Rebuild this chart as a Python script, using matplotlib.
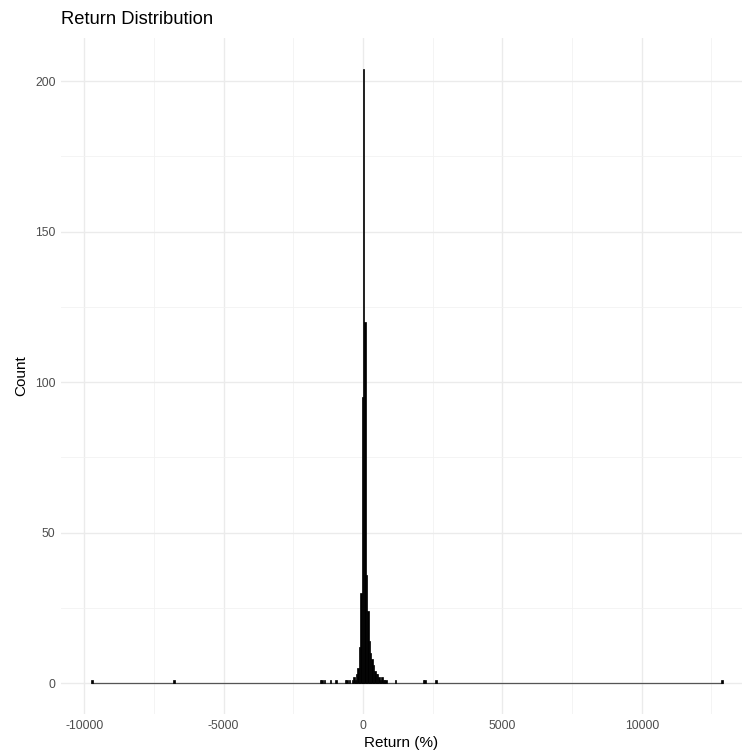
import numpy as np
import matplotlib
matplotlib.use('Agg')
import matplotlib.pyplot as plt
from matplotlib.ticker import MultipleLocator

plt.rcParams['font.family'] = ['Liberation Sans', 'DejaVu Sans']

# Histogram bins (left edge, %) that hold returns, and their counts
bin_width = 50
range_start = -9750
range_end = 12900
bin_left = [-9750, -6800, -1550, -1500, -1400, -1200, -1000, -650, -600,
            -500, -400, -350, -300, -250, -200, -150, -100, -50, 0, 50,
            100, 150, 200, 250, 300, 350, 400, 450, 500, 550, 600, 650,
            700, 750, 800, 1150, 2150, 2200, 2600, 12850]
counts = [1, 1, 1, 1, 1, 1, 1, 1, 1,
          1, 1, 2, 1, 3, 5, 12, 30, 95, 204, 120,
          36, 24, 14, 10, 8, 6, 4, 3, 3, 2, 1, 2,
          1, 1, 1, 1, 1, 1, 1, 1]

x_ticks = [-10000, -5000, 0, 5000, 10000]
y_ticks = [0, 50, 100, 150, 200]

# full set of bins, empty ones included
edges = np.arange(range_start, range_end, bin_width)
heights = np.zeros(len(edges))
for left, c in zip(bin_left, counts):
    heights[np.searchsorted(edges, left)] = c

fig = plt.figure(figsize=(7.42, 7.53), dpi=100)
ax = fig.add_axes([61/742, 1 - 714/753, (742 - 61)/742, (714 - 38)/753])

# empty bins show up as a grey line along zero
ax.plot([edges[0], edges[-1] + bin_width], [0, 0], color='#555555',
        linewidth=0.9, solid_capstyle='butt', zorder=2)
ax.bar(edges[heights > 0], heights[heights > 0], width=bin_width,
       align='edge', color='black', edgecolor='black', linewidth=0.5,
       zorder=3)

ax.set_xlim(-10834, 13596)
ax.set_ylim(-10.2, 214.3)
ax.set_xticks(x_ticks)
ax.set_xticklabels([str(v) for v in x_ticks])
ax.set_yticks(y_ticks)
ax.xaxis.set_minor_locator(MultipleLocator(2500))
ax.yaxis.set_minor_locator(MultipleLocator(25))

ax.grid(which='major', color='#ebebeb', linewidth=1.0, zorder=0)
ax.grid(which='minor', color='#f2f2f2', linewidth=0.6, zorder=0)
ax.set_axisbelow(True)
for s in ax.spines.values():
    s.set_visible(False)
ax.tick_params(which='both', length=0, labelsize=8.8, labelcolor='#4d4d4d')
ax.tick_params(axis='x', pad=4)
ax.tick_params(axis='y', pad=4)

ax.set_xlabel('Return (%)', fontsize=11, labelpad=3)
ax.set_ylabel('Count', fontsize=11, labelpad=5)
fig.text(61/742, 1 - 20/753, 'Return Distribution', fontsize=13.2,
         ha='left', va='center')

fig.savefig('out.png', dpi=100)
